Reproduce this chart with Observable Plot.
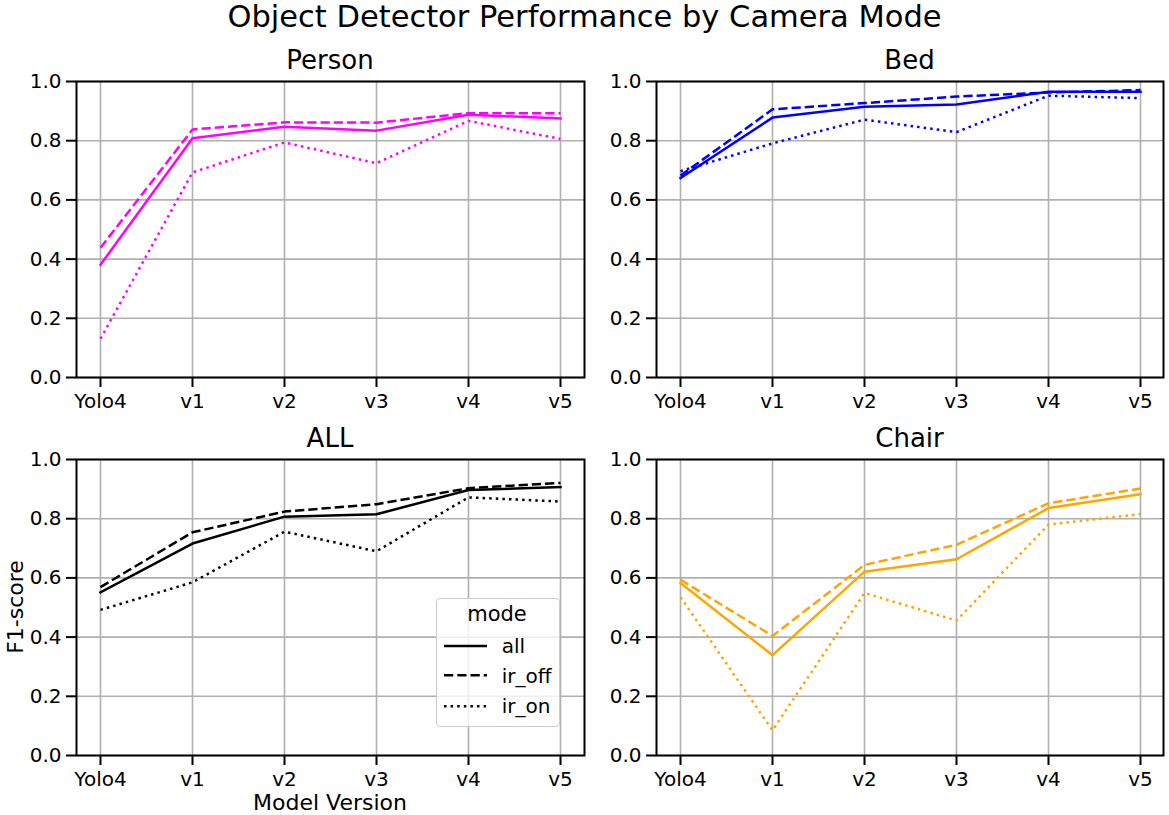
<!DOCTYPE html>
<html>
<head>
<meta charset="utf-8">
<script src="https://cdn.jsdelivr.net/npm/d3@7"></script>
<script src="https://cdn.jsdelivr.net/npm/@observablehq/plot@0.6"></script>
<style>
  html, body { margin: 0; padding: 0; background: #ffffff; }
  #chart { position: relative; width: 1169px; height: 815px; font-family: "DejaVu Sans", sans-serif; color: #000; }
  .abs { position: absolute; white-space: nowrap; line-height: 1; }
  .panel { position: absolute; }
  .panel svg { background: none !important; overflow: visible; }
  .panel svg text { font-size: 20px !important; font-family: "DejaVu Sans", sans-serif !important; }
  .panel g[aria-label^="x-axis"] path, .panel g[aria-label^="x-axis"] line,
  .panel g[aria-label^="y-axis"] path, .panel g[aria-label^="y-axis"] line { stroke-width: 2px; }
</style>
</head>
<body>
<div id="chart"></div>
<script>
// ---- data ----
const versions = ["Yolo4", "v1", "v2", "v3", "v4", "v5"];
const modes = ["all", "ir_off", "ir_on"];
const panelNames = ["Person", "Bed", "ALL", "Chair"];
const panelColors = ["#ff00ff", "#0000ff", "#000000", "#ffa500"];
const yTicks = [0, 0.2, 0.4, 0.6, 0.8, 1.0];

const personAll   = [0.381, 0.808, 0.847, 0.834, 0.888, 0.875];
const personIrOff = [0.438, 0.838, 0.862, 0.861, 0.893, 0.893];
const personIrOn  = [0.131, 0.693, 0.794, 0.724, 0.867, 0.806];

const bedAll   = [0.674, 0.878, 0.915, 0.922, 0.965, 0.965];
const bedIrOff = [0.682, 0.906, 0.927, 0.949, 0.963, 0.971];
const bedIrOn  = [0.697, 0.791, 0.871, 0.829, 0.952, 0.944];

const allAll   = [0.551, 0.716, 0.807, 0.815, 0.897, 0.907];
const allIrOff = [0.569, 0.754, 0.824, 0.849, 0.903, 0.921];
const allIrOn  = [0.492, 0.585, 0.756, 0.690, 0.872, 0.858];

const chairAll   = [0.583, 0.339, 0.621, 0.663, 0.836, 0.883];
const chairIrOff = [0.594, 0.404, 0.644, 0.712, 0.852, 0.902];
const chairIrOn  = [0.535, 0.085, 0.549, 0.456, 0.780, 0.816];

const seriesByPanel = [
  [personAll, personIrOff, personIrOn],
  [bedAll, bedIrOff, bedIrOn],
  [allAll, allIrOff, allIrOn],
  [chairAll, chairIrOff, chairIrOn]
];

// ---- styling ----
const dashes = [null, "9.25,4", "2.5,4.1"];
const lineW = 2.5;
const gridColor = "#b0b0b0";

const chart = document.getElementById("chart");

function addText(txt, opts) {
  const d = document.createElement("div");
  d.className = "abs";
  d.textContent = txt;
  Object.assign(d.style, opts);
  chart.appendChild(d);
  return d;
}

// geometry of each panel SVG
const colLeft = [0, 580];
const colWidth = [590, 589];
const rowTop = [40, 418];

function makePanel(k) {
  const series = seriesByPanel[k];
  const color = panelColors[k];
  const data = [];
  modes.forEach((m, j) => versions.forEach((v, i) => data.push({version: v, mode: m, value: series[j][i]})));
  const lineMarks = modes.map((m, j) => Plot.line(data.filter(d => d.mode === m), {
    x: "version", y: "value", stroke: color, strokeWidth: lineW,
    strokeDasharray: dashes[j] || undefined,
    strokeLinecap: j === 0 ? "square" : "butt", strokeLinejoin: "round"
  }));
  const col = k % 2, row = Math.floor(k / 2);
  const svg = Plot.plot({
    width: colWidth[col], height: 380,
    marginLeft: 76, marginRight: 6, marginTop: 41, marginBottom: 43,
    style: {fontFamily: "DejaVu Sans", fontSize: "20px", color: "#000", background: "none", overflow: "visible"},
    x: {type: "point", domain: versions, padding: 0.25, label: null, tickSize: 10, tickPadding: 6},
    y: {domain: [0, 1], ticks: yTicks, tickFormat: d => d.toFixed(1), label: null, tickSize: 10, tickPadding: 5},
    marks: [
      Plot.ruleX(versions, {stroke: gridColor, strokeWidth: 1.6}),
      Plot.ruleY(yTicks, {stroke: gridColor, strokeWidth: 1.6}),
      ...lineMarks,
      Plot.frame({stroke: "#000", strokeWidth: 2})
    ]
  });
  const wrap = document.createElement("div");
  wrap.className = "panel";
  wrap.style.left = colLeft[col] + "px";
  wrap.style.top = rowTop[row] + "px";
  wrap.appendChild(svg);
  chart.appendChild(wrap);

  // panel title (centered over frame)
  const cx = colLeft[col] + 76 + (colWidth[col] - 82) / 2;
  addText(panelNames[k], {fontSize: "26px", left: (cx - 150) + "px", width: "300px", textAlign: "center",
    top: (row === 0 ? 47 : 425) + "px"});
}

for (let k = 0; k < 4; k++) makePanel(k);

// main title
addText("Object Detector Performance by Camera Mode", {fontSize: "30.5px", left: "0px", width: "1169px", textAlign: "center", top: "1.5px"});

// axis labels (bottom-left panel)
addText("Model Version", {fontSize: "22px", left: "180px", width: "300px", textAlign: "center", top: "792.1px"});
addText("F1-score", {fontSize: "22px", left: (16 - 100) + "px", width: "200px", textAlign: "center",
  top: (607 - 11) + "px", transform: "rotate(-90deg)", transformOrigin: "50% 50%"});

// legend
(function legend() {
  const box = document.createElement("div");
  Object.assign(box.style, {position: "absolute", left: "435.7px", top: "597.7px", width: "122px", height: "127px",
    border: "1px solid #cccccc", borderRadius: "4px", background: "rgba(255,255,255,0.8)"});
  chart.appendChild(box);
  const ns = "http://www.w3.org/2000/svg";
  const s = document.createElementNS(ns, "svg");
  s.setAttribute("width", 122); s.setAttribute("height", 127);
  s.style.position = "absolute"; s.style.left = "0px"; s.style.top = "0px";
  const ys = [47, 76.3, 107.3];
  modes.forEach((m, j) => {
    const l = document.createElementNS(ns, "line");
    l.setAttribute("x1", 7); l.setAttribute("x2", 50);
    l.setAttribute("y1", ys[j]); l.setAttribute("y2", ys[j]);
    l.setAttribute("stroke", "#000"); l.setAttribute("stroke-width", lineW);
    if (dashes[j]) l.setAttribute("stroke-dasharray", dashes[j]);
    s.appendChild(l);
  });
  box.appendChild(s);
  addText("mode", {fontSize: "21px", left: "397px", width: "200px", textAlign: "center", top: (622 - 17.8) + "px"});
  const baselines = [652.7, 683, 713];
  modes.forEach((m, j) => addText(m, {fontSize: "20px", left: "501.7px", top: (baselines[j] - 16.9) + "px"}));
})();
</script>
</body>
</html>
